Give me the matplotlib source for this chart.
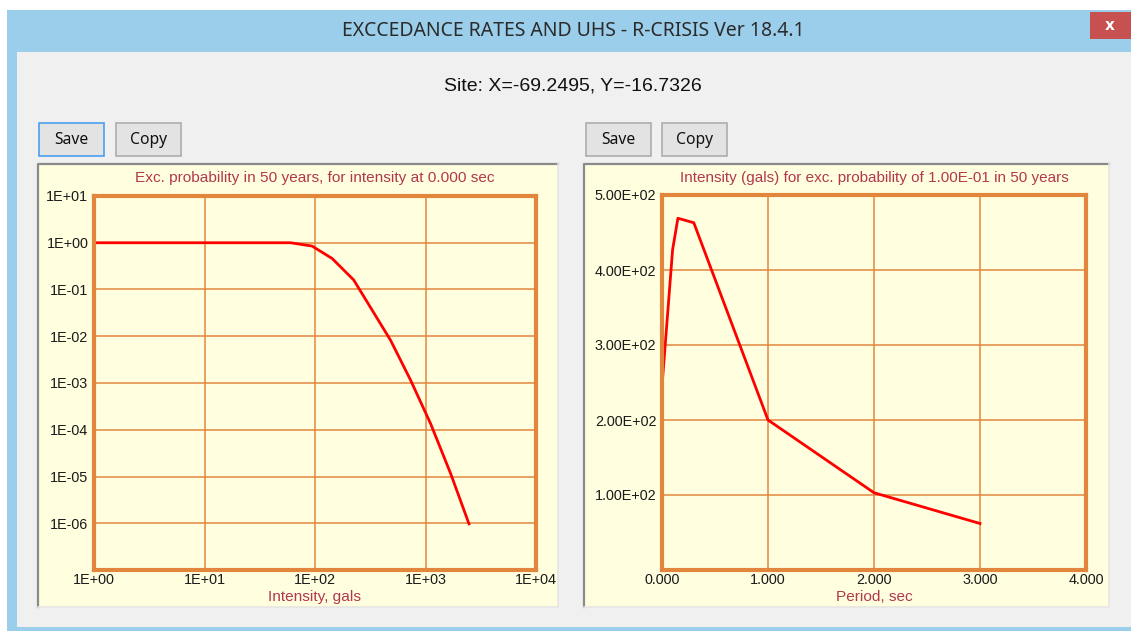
import matplotlib
matplotlib.use("Agg")
import matplotlib.pyplot as plt
from matplotlib.patches import Rectangle

# exceedance probability curve (left)
intensity = [1, 60, 94, 143, 224, 483, 733, 1112, 1690, 2475]
exc_prob = [1, 1, 0.85, 0.46, 0.16, 0.0082, 0.00115, 1.35e-4, 1.15e-5, 9.7e-7]
x_ticks_l = [1, 10, 100, 1000, 10000]
x_labels_l = ["1E+00", "1E+01", "1E+02", "1E+03", "1E+04"]
y_ticks_l = [10, 1, 0.1, 0.01, 1e-3, 1e-4, 1e-5, 1e-6]
y_labels_l = ["1E+01", "1E+00", "1E-01", "1E-02", "1E-03", "1E-04", "1E-05", "1E-06"]

# uniform hazard spectrum (right)
period = [0, 0.1, 0.15, 0.3, 1.0, 2.0, 3.0]
sa = [245, 427, 469, 463, 200, 103, 62]
x_ticks_r = [0, 1, 2, 3, 4]
x_labels_r = ["0.000", "1.000", "2.000", "3.000", "4.000"]
y_ticks_r = [100, 200, 300, 400, 500]
y_labels_r = ["1.00E+02", "2.00E+02", "3.00E+02", "4.00E+02", "5.00E+02"]

W, H = 1131, 631
fig = plt.figure(figsize=(W / 100, H / 100), dpi=100)
fig.patch.set_facecolor("white")

# window chrome, drawn in pixel coords
bg = fig.add_axes([0, 0, 1, 1])
bg.set_xlim(0, W)
bg.set_ylim(H, 0)
bg.axis("off")

def box(x, y, w, h, fc, ec="none", lw=1):
    bg.add_patch(Rectangle((x, y), w, h, facecolor=fc, edgecolor=ec, linewidth=lw))

box(7, 10, W - 7, H - 10, "#9bceea")
box(17, 52, W - 17, 575, "#f0f0f0")
box(1090, 12, 41, 27, "#c75050")
bg.text(1110, 25, "x", color="white", fontsize=11, ha="center", va="center",
        family="DejaVu Sans", weight="bold")
bg.text(573, 31, "EXCCEDANCE RATES AND UHS - R-CRISIS Ver 18.4.1", color="#2b2b2b",
        fontsize=14, ha="center", va="center", family="Noto Sans")
bg.text(573, 86, "Site: X=-69.2495, Y=-16.7326", color="#111111", fontsize=14,
        ha="center", va="center", family="Liberation Sans")

# buttons
for x0, label, focused in [(39, "Save", True), (116, "Copy", False),
                           (586, "Save", False), (662, "Copy", False)]:
    box(x0, 123, 65, 33, "#e3e3e3", "#4a9ff0" if focused else "#adadad", 1.2)
    bg.text(x0 + 32.5, 140, label, fontsize=11.3, ha="center", va="center",
            family="Noto Sans", color="#111111")

# chart panels (sunken frame)
for x0, x1 in [(38, 558), (584, 1109)]:
    box(x0, 164, x1 - x0, 443, "#ffffe0")
    bg.plot([x0, x0, x1], [607, 164, 164], color="#8a8a8a", lw=1.6)
    bg.plot([x0, x1, x1], [607, 607, 164], color="#e6e6e6", lw=1.2)

orange = "#e2863e"
red = "#ff0000"
title_c = "#b3374d"

def style(ax):
    ax.set_facecolor("#ffffe0")
    for s in ax.spines.values():
        s.set_color(orange)
        s.set_linewidth(3)
    ax.tick_params(length=0, labelsize=10.4, labelcolor="#1a1a1a")
    ax.tick_params(axis="x", pad=2)
    ax.tick_params(axis="y", pad=4)
    for lab in ax.get_xticklabels() + ax.get_yticklabels():
        lab.set_family("Liberation Sans")
    ax.grid(True, color=orange, linewidth=1.1)

# left: exceedance probability
ax1 = fig.add_axes([94 / W, 1 - 570 / H, 442 / W, 374 / H])
ax1.plot(intensity, exc_prob, color=red, lw=2)
ax1.set_xscale("log")
ax1.set_yscale("log")
ax1.set_xlim(1, 10000)
ax1.set_ylim(1e-7, 10)
ax1.set_xticks(x_ticks_l, x_labels_l)
ax1.set_yticks(y_ticks_l, y_labels_l)
ax1.minorticks_off()
style(ax1)
ax1.text(0.5, 1 + 18 / 374, "Exc. probability in 50 years, for intensity at 0.000 sec",
         transform=ax1.transAxes, ha="center", va="center", color=title_c,
         fontsize=11.1, family="Liberation Sans")
ax1.text(0.5, -27 / 374, "Intensity, gals", transform=ax1.transAxes, ha="center",
         va="center", color=title_c, fontsize=11.1, family="Liberation Sans")

# right: UHS
ax2 = fig.add_axes([662 / W, 1 - 570 / H, 424 / W, 375 / H])
ax2.plot(period, sa, color=red, lw=2)
ax2.set_xlim(0, 4)
ax2.set_ylim(0, 500)
ax2.set_xticks(x_ticks_r, x_labels_r)
ax2.set_yticks(y_ticks_r, y_labels_r)
style(ax2)
ax2.text(0.5, 1 + 17 / 375, "Intensity (gals) for exc. probability of 1.00E-01 in 50 years",
         transform=ax2.transAxes, ha="center", va="center", color=title_c,
         fontsize=11, family="Liberation Sans")
ax2.text(0.5, -27 / 375, "Period, sec", transform=ax2.transAxes, ha="center",
         va="center", color=title_c, fontsize=11.1, family="Liberation Sans")

fig.savefig("out.png", dpi=100)
